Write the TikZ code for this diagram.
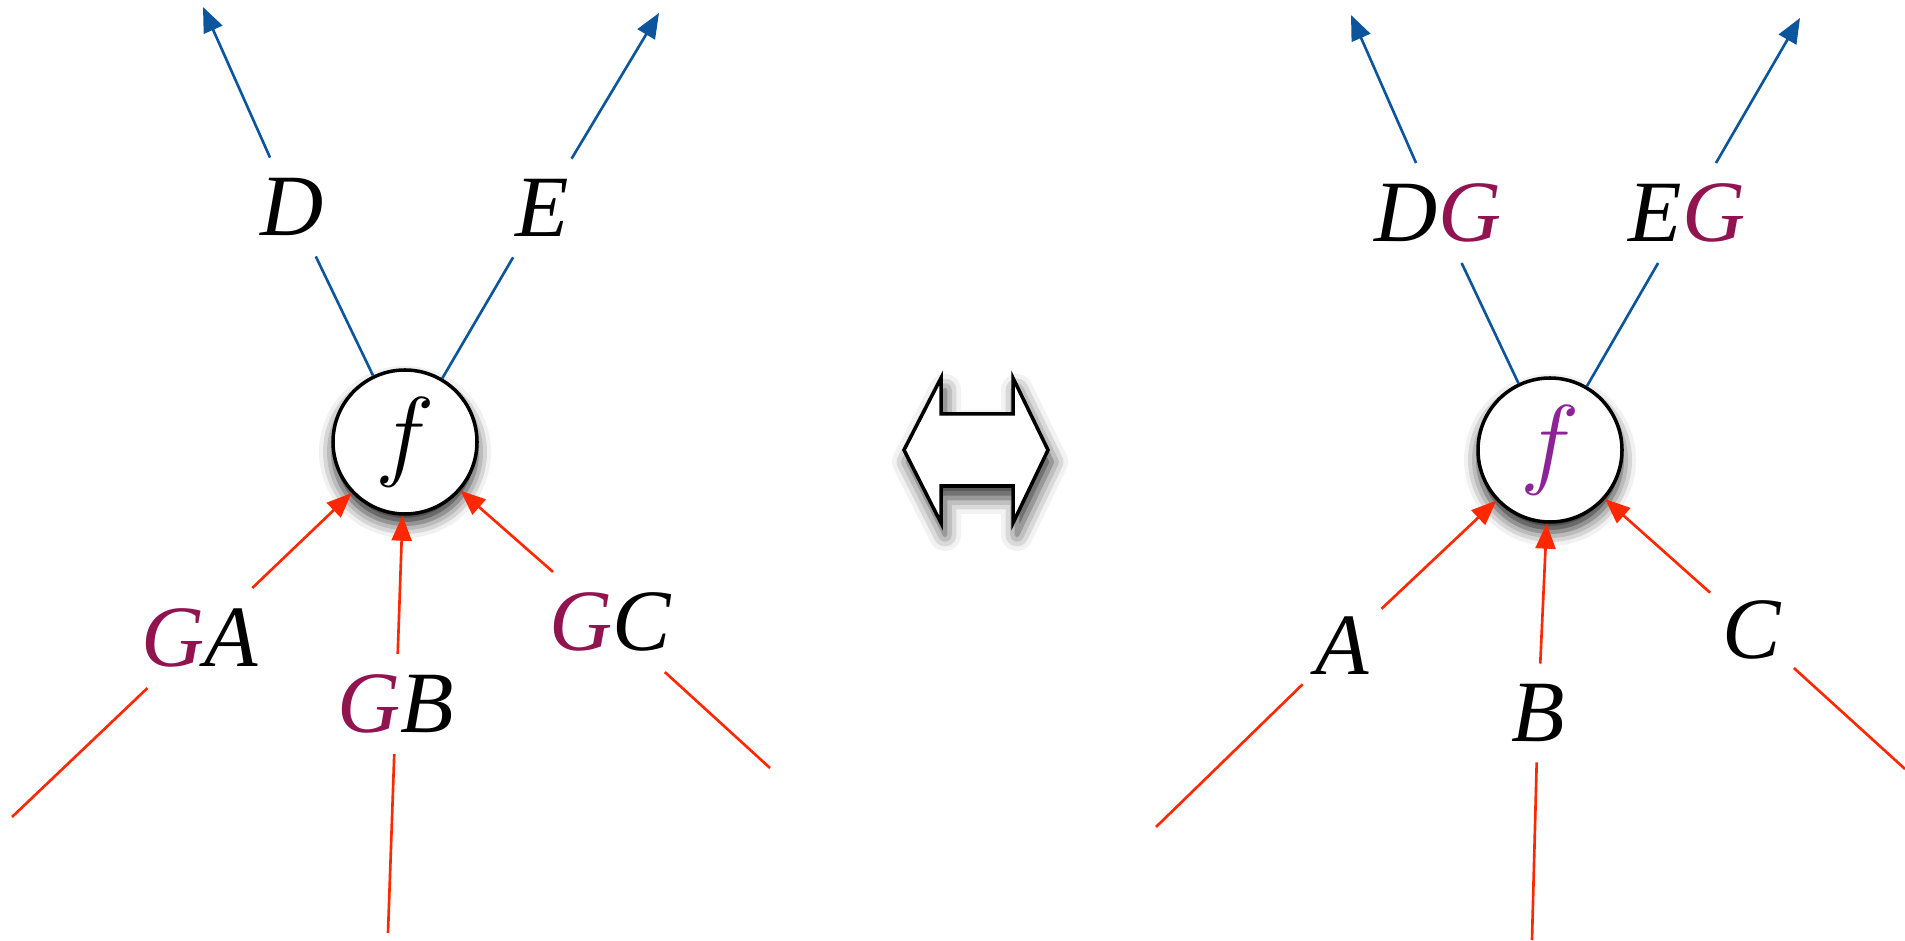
\documentclass[tikz,border=0pt]{standalone}
\usepackage{fontspec}
\setmainfont{Liberation Serif}
\usetikzlibrary{arrows.meta,shadows.blur}
\definecolor{outblue}{RGB}{10,85,155}
\definecolor{inred}{RGB}{255,40,0}
\definecolor{gmaroon}{RGB}{145,20,80}
\definecolor{fpurple}{RGB}{140,35,150}
\newcommand{\gG}{\textcolor{gmaroon}{G}}
\newcommand{\bigf}{\scalebox{1.15}{$f$}}

\begin{document}
\begin{tikzpicture}[
  x=1cm,y=1cm,
  vertex/.style={circle, draw=black, line width=1pt, fill=white,
    minimum size=1.44cm, inner sep=0pt, font=\Huge,
    blur shadow={shadow xshift=0pt, shadow yshift=-1mm,
      shadow blur radius=1.4mm, shadow opacity=85}},
  tag/.style={inner xsep=0.12cm, inner ysep=0.2cm, font=\Huge\itshape},
  bluewire/.style={line width=0.75pt, draw=outblue},
  bluearrow/.style={bluewire, -{Triangle[length=2.5mm,width=2mm]}},
  redwire/.style={line width=0.75pt, draw=inred},
  redarrow/.style={redwire, -{Triangle[length=2.5mm,width=2mm]}},
  swapsign/.style={line width=1pt, draw=black, fill=white, line join=miter,
    blur shadow={shadow xshift=0.4mm, shadow yshift=-1.2mm,
      shadow blur radius=1.6mm, shadow opacity=80}}
]
\useasboundingbox (0,0) rectangle (19.05,9.41);

\node[vertex] (fleft) at (4.05,4.99) {\bigf};
\node[tag] (dleft) at (2.92,7.34) {D};
\node[tag] (eleft) at (5.42,7.33) {E};
\node[tag] (galeft) at (2.00,3.03) {\gG A};
\node[tag] (gbleft) at (3.96,2.37) {\gG B};
\node[tag] (gcleft) at (6.10,3.19) {\gG C};
\coordinate (dtipleft) at (2.03,9.34);
\coordinate (etipleft) at (6.59,9.28);
\coordinate (astartleft) at (0.12,1.24);
\coordinate (bstartleft) at (3.88,0.08);
\coordinate (cstartleft) at (7.70,1.73);
\draw[bluewire] (fleft) -- (dleft);
\draw[bluearrow] (dleft) -- (dtipleft);
\draw[bluewire] (fleft) -- (eleft);
\draw[bluearrow] (eleft) -- (etipleft);
\draw[redwire] (astartleft) -- (galeft);
\draw[redarrow] (galeft) -- (fleft);
\draw[redwire] (bstartleft) -- (gbleft);
\draw[redarrow] (gbleft) -- (fleft);
\draw[redwire] (cstartleft) -- (gcleft);
\draw[redarrow] (gcleft) -- (fleft);

\draw[swapsign] (9.04,4.91) -- (9.41,5.63) -- (9.41,5.27) -- (10.13,5.27)
  -- (10.13,5.63) -- (10.48,4.91) -- (10.13,4.18) -- (10.13,4.55)
  -- (9.41,4.55) -- (9.41,4.18) -- cycle;

\node[vertex] (fright) at (15.50,4.91) {\textcolor{fpurple}{\bigf}};
\node[tag] (dgright) at (14.38,7.28) {D\gG};
\node[tag] (egright) at (16.87,7.28) {E\gG};
\node[tag] (aright) at (13.42,2.95) {A};
\node[tag] (bright) at (15.38,2.28) {B};
\node[tag] (cright) at (17.52,3.11) {C};
\coordinate (dtipright) at (13.51,9.26);
\coordinate (etipright) at (18.00,9.23);
\coordinate (astartright) at (11.56,1.14);
\coordinate (bstartright) at (15.32,0.01);
\coordinate (cstartright) at (19.05,1.72);
\draw[bluewire] (fright) -- (dgright);
\draw[bluearrow] (dgright) -- (dtipright);
\draw[bluewire] (fright) -- (egright);
\draw[bluearrow] (egright) -- (etipright);
\draw[redwire] (astartright) -- (aright);
\draw[redarrow] (aright) -- (fright);
\draw[redwire] (bstartright) -- (bright);
\draw[redarrow] (bright) -- (fright);
\draw[redwire] (cstartright) -- (cright);
\draw[redarrow] (cright) -- (fright);
\end{tikzpicture}
\end{document}
